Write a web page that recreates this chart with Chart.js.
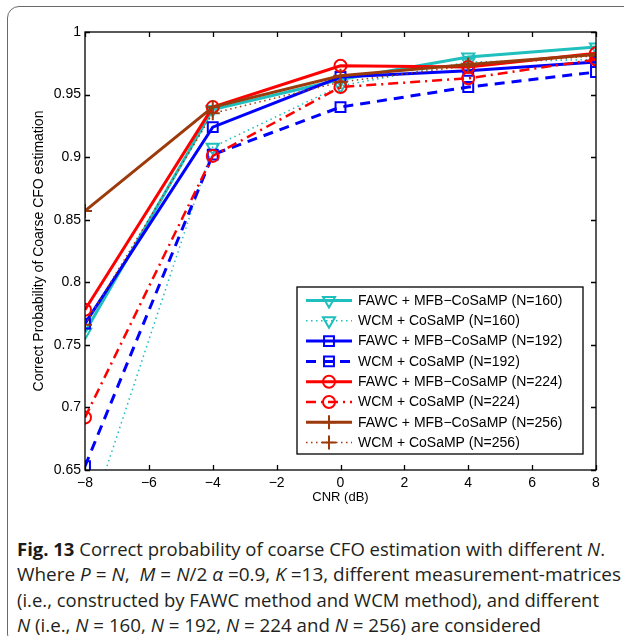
<!DOCTYPE html>
<html>
<head>
<meta charset="utf-8">
<script src="https://cdn.jsdelivr.net/npm/chart.js@4.4.1/dist/chart.umd.min.js"></script>
<style>
  html,body{margin:0;padding:0;background:#fff;}
  body{width:624px;height:636px;overflow:hidden;position:relative;}
  #frame{position:absolute;left:7px;top:6px;width:720px;height:640px;border:1.5px solid #6a6a6a;border-radius:12px;box-sizing:border-box;}
  #wrap{position:absolute;left:0;top:0;width:624px;height:508px;}
  #cap{position:absolute;left:17px;top:537px;font-family:"Open Sans",sans-serif;font-size:18px;color:#231f20;}
  #cap .ln{position:absolute;left:0;white-space:nowrap;transform-origin:0 50%;line-height:25px;}
  #cap b{font-weight:700;color:#1a1a1a;}
</style>
</head>
<body>
<div id="frame"></div>
<div id="wrap"><canvas id="c" width="624" height="508"></canvas></div>
<div id="cap">
  <div class="ln" data-w="588" style="top:0px"><b>Fig. 13</b> Correct probability of coarse CFO estimation with different <i>N</i>.</div>
  <div class="ln" data-w="604" style="top:25.3px">Where <i>P</i> = <i>N</i>, &nbsp;<i>M</i> = <i>N</i>/2 <i>α</i> =0.9, <i>K</i> =13, different measurement-matrices</div>
  <div class="ln" data-w="582" style="top:50.6px">(i.e., constructed by FAWC method and WCM method), and different</div>
  <div class="ln" data-w="524" style="top:75.9px"><i>N</i> (i.e., <i>N</i> = 160, <i>N</i> = 192, <i>N</i> = 224 and <i>N</i> = 256) are considered</div>
</div>
<script>
// ---- data ----
const cnr = [-8, -4, 0, 4, 8];
const xTickLabels = ['−8', '−6', '−4', '−2', '0', '2', '4', '6', '8'];
const yTickLabels = ['0.65', '0.7', '0.75', '0.8', '0.85', '0.9', '0.95', '1'];
const seriesNames = [
  'FAWC + MFB−CoSaMP (N=160)', 'WCM + CoSaMP (N=160)',
  'FAWC + MFB−CoSaMP (N=192)', 'WCM + CoSaMP (N=192)',
  'FAWC + MFB−CoSaMP (N=224)', 'WCM + CoSaMP (N=224)',
  'FAWC + MFB−CoSaMP (N=256)', 'WCM + CoSaMP (N=256)'
];
const fawc160 = [0.760, 0.938, 0.962, 0.980, 0.988];
const wcm160  = [0.600, 0.908, 0.957, 0.976, 0.978];
const fawc192 = [0.767, 0.924, 0.964, 0.969, 0.976];
const wcm192  = [0.653, 0.902, 0.940, 0.956, 0.968];
const fawc224 = [0.778, 0.940, 0.973, 0.972, 0.983];
const wcm224  = [0.692, 0.901, 0.956, 0.963, 0.978];
const fawc256 = [0.857, 0.940, 0.965, 0.974, 0.982];
const wcm256  = [0.766, 0.935, 0.960, 0.973, 0.981];

// ---- styles ----
const CYAN = '#1ebfbd', BLUE = '#0000ff', RED = '#ff0000', BROWN = '#9c3a0c';
const styles = [
  {c: CYAN,  w: 3,   dash: [],            ps: 'triangle', rot: 180, r: 7},
  {c: CYAN,  w: 1.5, dash: [1.5, 3.5],    ps: 'triangle', rot: 180, r: 7},
  {c: BLUE,  w: 3,   dash: [],            ps: 'rect',     rot: 0,   r: 7},
  {c: BLUE,  w: 3,   dash: [10, 7],       ps: 'rect',     rot: 0,   r: 7},
  {c: RED,   w: 3,   dash: [],            ps: 'circle',   rot: 0,   r: 6},
  {c: RED,   w: 2.5, dash: [10, 5, 2, 5], ps: 'circle',   rot: 0,   r: 6},
  {c: BROWN, w: 3,   dash: [],            ps: 'cross',    rot: 0,   r: 7},
  {c: BROWN, w: 1.5, dash: [1.5, 3.5],    ps: 'cross',    rot: 0,   r: 7}
];
const allSeries = [fawc160, wcm160, fawc192, wcm192, fawc224, wcm224, fawc256, wcm256];

const datasets = allSeries.map((vals, i) => {
  const s = styles[i];
  return {
    label: seriesNames[i],
    data: vals.map((v, k) => ({x: cnr[k], y: v})),
    borderColor: s.c,
    borderWidth: s.w,
    borderDash: s.dash,
    pointStyle: s.ps,
    pointRotation: s.rot,
    pointRadius: s.r,
    pointBorderWidth: 2,
    pointBorderColor: s.c,
    pointBackgroundColor: 'rgba(0,0,0,0)',
    tension: 0,
    fill: false,
    order: 8 - i
  };
});

const FONT = '"Liberation Sans", Arial, Helvetica, sans-serif';

function drawMarker(ctx, s, x, y) {
  const opts = {pointStyle: s.ps, rotation: s.rot, radius: s.r, borderWidth: 2};
  ctx.save();
  ctx.strokeStyle = s.c; ctx.fillStyle = 'rgba(0,0,0,0)'; ctx.lineWidth = 2; ctx.setLineDash([]);
  if (Chart.helpers && Chart.helpers.drawPoint) {
    Chart.helpers.drawPoint(ctx, opts, x, y);
  }
  ctx.restore();
}

const boxPlugin = {
  id: 'boxLegend',
  afterDatasetsDraw(chart) {
    const {ctx, chartArea: a, scales: {x, y}} = chart;
    ctx.save();
    ctx.setLineDash([]);
    ctx.strokeStyle = '#000';
    ctx.lineWidth = 1.3;
    ctx.strokeRect(a.left, a.top, a.right - a.left, a.bottom - a.top);
    ctx.beginPath();
    const L = 5;
    x.ticks.forEach(t => {
      const px = Math.round(x.getPixelForValue(t.value)) + 0.5;
      ctx.moveTo(px, a.bottom); ctx.lineTo(px, a.bottom - L);
      ctx.moveTo(px, a.top); ctx.lineTo(px, a.top + L);
    });
    y.ticks.forEach(t => {
      const py = Math.round(y.getPixelForValue(t.value)) + 0.5;
      ctx.moveTo(a.left, py); ctx.lineTo(a.left + L, py);
      ctx.moveTo(a.right, py); ctx.lineTo(a.right - L, py);
    });
    ctx.stroke();

    // legend
    const lx = 297, ly = 287, lw = 286, lh = 167;
    ctx.fillStyle = '#fff';
    ctx.fillRect(lx, ly, lw, lh);
    ctx.strokeStyle = '#000';
    ctx.lineWidth = 1.3;
    ctx.strokeRect(lx, ly, lw, lh);
    ctx.font = '14px ' + FONT;
    ctx.textBaseline = 'middle';
    ctx.textAlign = 'left';
    chart.data.datasets.forEach((ds, i) => {
      const s = styles[i];
      const ry = ly + 13.5 + i * 20.3;
      ctx.save();
      ctx.strokeStyle = s.c;
      ctx.lineWidth = s.w;
      ctx.setLineDash(s.dash);
      ctx.beginPath();
      ctx.moveTo(lx + 9, ry); ctx.lineTo(lx + 55, ry);
      ctx.stroke();
      ctx.restore();
      drawMarker(ctx, s, lx + 32, ry);
      ctx.fillStyle = '#000';
      ctx.fillText(ds.label, lx + 61, ry + 0.5);
    });
    ctx.restore();
  }
};

new Chart(document.getElementById('c'), {
  type: 'line',
  data: {datasets},
  options: {
    responsive: false,
    devicePixelRatio: 1,
    animation: false,
    layout: {padding: {top: 32, right: 28, left: 0, bottom: 0}},
    plugins: {legend: {display: false}, tooltip: {enabled: false}},
    scales: {
      x: {
        type: 'linear', min: -8, max: 8,
        ticks: {stepSize: 2, color: '#000', font: {family: FONT, size: 14}, padding: 5,
                callback: (v, i) => xTickLabels[i]},
        grid: {drawOnChartArea: false, drawTicks: false},
        border: {display: false},
        title: {display: true, text: 'CNR (dB)', color: '#000', font: {family: FONT, size: 13}, padding: {top: 0, bottom: 3}},
        afterFit: s => { s.height = 38; }
      },
      y: {
        type: 'linear', min: 0.65, max: 1,
        ticks: {stepSize: 0.05, color: '#000', font: {family: FONT, size: 14}, padding: 4,
                callback: (v, i) => yTickLabels[i]},
        grid: {drawOnChartArea: false, drawTicks: false},
        border: {display: false},
        title: {display: true, text: 'Correct Probability of Coarse CFO estimation', color: '#000', font: {family: FONT, size: 14}, padding: {top: 31, bottom: 0}},
        afterFit: s => { s.width = 85; }
      }
    }
  },
  plugins: [boxPlugin]
});

// fit caption lines to the widths in the reference
document.querySelectorAll('#cap .ln').forEach(el => {
  const target = parseFloat(el.dataset.w);
  const w = el.getBoundingClientRect().width;
  if (w > 0) el.style.transform = 'scaleX(' + (target / w) + ')';
});
</script>
</body>
</html>
